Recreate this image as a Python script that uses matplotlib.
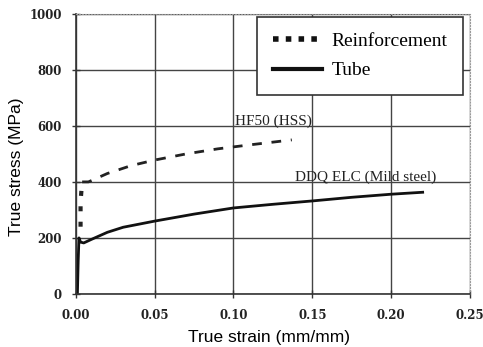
import matplotlib.pyplot as plt
from matplotlib.lines import Line2D

# true stress-strain curves (strain in mm/mm, stress in MPa)
reinf_strain = [0.003, 0.003, 0.004, 0.008, 0.02, 0.035, 0.05, 0.07, 0.09, 0.11, 0.125, 0.137]
reinf_stress = [240, 330, 400, 400, 430, 458, 478, 500, 518, 532, 542, 550]

tube_strain = [0.001, 0.0015, 0.002, 0.003, 0.005, 0.01, 0.02, 0.03, 0.05, 0.075, 0.10, 0.125, 0.15, 0.175, 0.20, 0.22]
tube_stress = [0, 120, 200, 185, 182, 195, 220, 238, 260, 285, 307, 320, 332, 345, 356, 363]

xticks = [0.00, 0.05, 0.10, 0.15, 0.20, 0.25]
yticks = [0, 200, 400, 600, 800, 1000]

fig = plt.figure(figsize=(4.83, 3.47), dpi=100)
ax = fig.add_axes([0.157, 0.153, 0.816, 0.807])

ax.plot(reinf_strain[:3], reinf_stress[:3], color='#222222', lw=3,
        linestyle=(0, (1.2, 2.5)), solid_capstyle='butt')
ax.plot(reinf_strain[2:], reinf_stress[2:], color='#222222', lw=2,
        linestyle=(0, (3.5, 3.5)))
ax.plot(tube_strain, tube_stress, color='#111111', lw=2)

ax.set_xlim(0, 0.25)
ax.set_ylim(0, 1000)
ax.set_xticks(xticks)
ax.set_yticks(yticks)
tick_font = dict(family='DejaVu Serif', fontweight='bold', fontsize=8.5, color='#222222')
ax.set_xticklabels([f'{v:.2f}' for v in xticks], **tick_font)
ax.set_yticklabels([str(v) for v in yticks], **tick_font)
ax.tick_params(direction='inout', length=6, width=1, pad=7, color='#333333')
ax.tick_params(axis='x', pad=8)

ax.grid(True, color='#444444', lw=1)
ax.set_axisbelow(True)
for side in ['left', 'bottom']:
    ax.spines[side].set_color('#333333')
    ax.spines[side].set_linewidth(1.2)
for side in ['top', 'right']:
    ax.spines[side].set_color('#999999')
    ax.spines[side].set_linestyle(':')

ax.set_xlabel('True strain (mm/mm)', family='Liberation Sans', fontsize=12.5, va='center')
ax.set_ylabel('True stress (MPa)', family='Liberation Sans', fontsize=12.5, va='center')
ax.xaxis.set_label_coords(0.49, -0.157)
ax.yaxis.set_label_coords(-0.150, 0.454)

ax.text(0.101, 603, 'HF50 (HSS)', family='Liberation Serif', fontsize=11, color='#222222')
ax.text(0.139, 403, 'DDQ ELC (Mild steel)', family='Liberation Serif', fontsize=11, color='#222222')

handles = [
    Line2D([], [], color='#111111', lw=4, linestyle=(0, (1, 1.3))),
    Line2D([], [], color='#111111', lw=3),
]
leg = ax.legend(handles, ['Reinforcement', 'Tube'], loc='upper right',
                bbox_to_anchor=(0.982, 0.989), borderaxespad=0, fancybox=False,
                framealpha=1, edgecolor='#333333', handlelength=2.5,
                handletextpad=0.5, borderpad=0.8, labelspacing=0.6,
                prop={'family': 'Liberation Serif', 'size': 14})
leg.get_frame().set_linewidth(1.2)

fig.savefig('out.png', dpi=100)
